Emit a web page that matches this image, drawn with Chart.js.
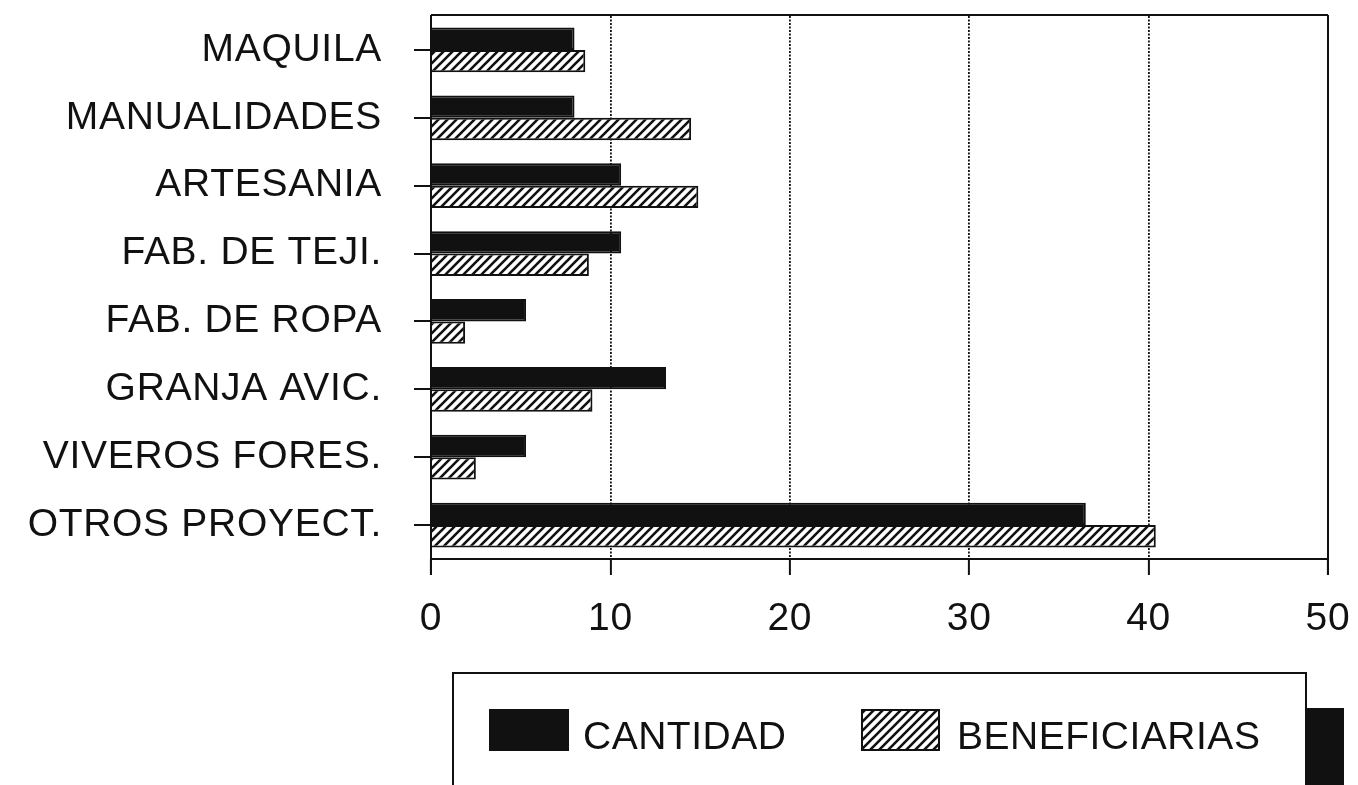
<!DOCTYPE html>
<html>
<head>
<meta charset="utf-8">
<script src="https://cdn.jsdelivr.net/npm/chart.js@4/dist/chart.umd.min.js"></script>
<style>
  html, body { margin: 0; padding: 0; background: #fff; }
  #wrap { width: 1358px; height: 785px; position: relative; }
</style>
</head>
<body>
<div id="wrap"><canvas id="c" width="1358" height="785"></canvas></div>
<script>
const categories = ["MAQUILA", "MANUALIDADES", "ARTESANIA", "FAB. DE TEJI.", "FAB. DE ROPA", "GRANJA AVIC.", "VIVEROS FORES.", "OTROS PROYECT."];
const cantidad = [8.0, 8.0, 10.6, 10.6, 5.3, 13.1, 5.3, 36.5];
const beneficiarias = [8.6, 14.5, 14.9, 8.8, 1.9, 9.0, 2.5, 40.4];
const xTicks = [0, 10, 20, 30, 40, 50];
const seriesNames = ["CANTIDAD", "BENEFICIARIAS"];

const INK = '#111';
const FONT = '"Liberation Sans", Arial, sans-serif';

function hatch() {
  const s = 9;
  const p = document.createElement('canvas');
  p.width = s; p.height = s;
  const g = p.getContext('2d');
  g.fillStyle = '#fff';
  g.fillRect(0, 0, s, s);
  g.strokeStyle = INK;
  g.lineWidth = 2.6;
  g.beginPath();
  g.moveTo(-2, s + 2); g.lineTo(s + 2, -2);
  g.moveTo(-2, 2); g.lineTo(2, -2);
  g.moveTo(s - 2, s + 2); g.lineTo(s + 2, s - 2);
  g.stroke();
  return g.createPattern(p, 'repeat');
}
const hatchPattern = hatch();

const framePlugin = {
  id: 'frame',
  beforeDraw(chart) {
    chart.ctx.letterSpacing = '0.7px';
  },
  afterDatasetsDraw(chart) {
    const { ctx, chartArea: a } = chart;
    const tl = chart.options.scales.x.grid.tickLength;
    ctx.save();
    ctx.setLineDash([]);
    ctx.strokeStyle = INK;
    ctx.lineWidth = 2;
    ctx.beginPath();
    ctx.moveTo(a.left, a.top - 1); ctx.lineTo(a.right, a.top - 1);
    ctx.moveTo(a.left, a.top - 1); ctx.lineTo(a.left, a.bottom + tl);
    ctx.moveTo(a.right, a.top - 1); ctx.lineTo(a.right, a.bottom + tl);
    ctx.moveTo(a.left, a.bottom); ctx.lineTo(a.right, a.bottom);
    ctx.stroke();
    ctx.restore();
  },
  afterDraw(chart) {
    const ctx = chart.ctx;
    const ds = chart.data.datasets;
    ctx.save();
    ctx.setLineDash([]);
    // shadow
    ctx.fillStyle = INK;
    ctx.fillRect(1306, 708, 38, 90);
    // box
    ctx.fillStyle = '#fff';
    ctx.fillRect(453, 673, 853, 130);
    ctx.strokeStyle = INK;
    ctx.lineWidth = 2;
    ctx.strokeRect(453, 673, 853, 130);
    // items
    const items = [
      { sx: 490, sw: 78, tx: 583 },
      { sx: 862, sw: 77, tx: 957 }
    ];
    ctx.font = '39px ' + FONT;
    ctx.textBaseline = 'alphabetic';
    ctx.textAlign = 'left';
    ctx.letterSpacing = '0.5px';
    items.forEach((it, i) => {
      ctx.fillStyle = ds[i].backgroundColor;
      ctx.fillRect(it.sx, 710, it.sw, 40);
      ctx.lineWidth = 2;
      ctx.strokeStyle = INK;
      ctx.strokeRect(it.sx, 710, it.sw, 40);
      ctx.fillStyle = INK;
      ctx.fillText(ds[i].label, it.tx, 749);
    });
    ctx.restore();
  }
};

new Chart(document.getElementById('c'), {
  type: 'bar',
  data: {
    labels: categories,
    datasets: [
      { label: seriesNames[0], data: cantidad, backgroundColor: INK, borderColor: INK, borderWidth: 2 },
      { label: seriesNames[1], data: beneficiarias, backgroundColor: hatchPattern, borderColor: INK, borderWidth: 2 }
    ]
  },
  options: {
    indexAxis: 'y',
    responsive: false,
    animation: false,
    devicePixelRatio: 1,
    layout: { padding: { top: 16, right: 30, left: 0, bottom: 0 } },
    datasets: { bar: { barPercentage: 1.0, categoryPercentage: 0.66 } },
    plugins: { legend: { display: false }, tooltip: { enabled: false } },
    scales: {
      x: {
        type: 'linear',
        min: 0, max: 50,
        afterBuildTicks(scale) { scale.ticks = xTicks.map(v => ({ value: v })); },
        afterFit(scale) { scale.height = 226; scale.paddingLeft = 0; scale.paddingRight = 0; },
        grid: { color: INK, lineWidth: 1.8, tickLength: 16, tickWidth: 2, tickColor: INK, tickBorderDash: [] },
        border: { display: false, dash: [2, 1.5] },
        ticks: { color: INK, font: { family: FONT, size: 39 }, padding: 21, maxRotation: 0 }
      },
      y: {
        type: 'category',
        afterFit(scale) { scale.width = 431; scale.paddingTop = 0; scale.paddingBottom = 0; },
        grid: { drawOnChartArea: false, offset: false, color: INK, lineWidth: 2, tickLength: 17 },
        border: { display: false },
        ticks: { color: INK, font: { family: FONT, size: 39 }, padding: 32, autoSkip: false }
      }
    }
  },
  plugins: [framePlugin]
});
</script>
</body>
</html>
